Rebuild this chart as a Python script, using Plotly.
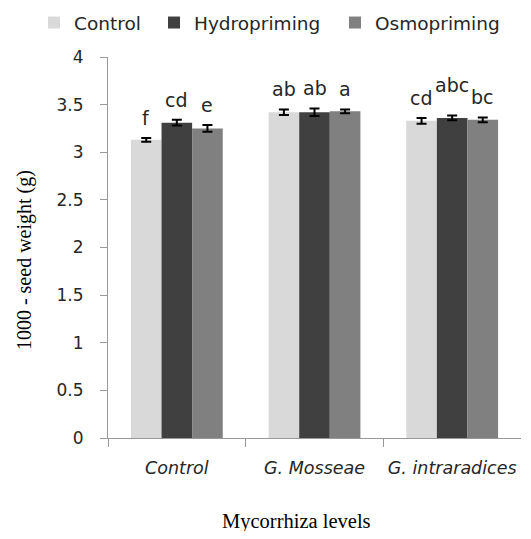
import plotly.graph_objects as go

categories = ["Control", "G. Mosseae", "G. intraradices"]
series_names = ["Control", "Hydropriming", "Osmopriming"]
control_vals = [3.13, 3.42, 3.33]
hydro_vals = [3.31, 3.42, 3.36]
osmo_vals = [3.25, 3.43, 3.34]
control_err = [0.02, 0.03, 0.03]
hydro_err = [0.03, 0.04, 0.025]
osmo_err = [0.035, 0.02, 0.025]
control_letters = ["f", "ab", "cd"]
hydro_letters = ["cd", "ab", "abc"]
osmo_letters = ["e", "a", "bc"]
y_ticks = [0, 0.5, 1, 1.5, 2, 2.5, 3, 3.5, 4]
y_tick_labels = ["0", "0.5", "1", "1.5", "2", "2.5", "3", "3.5", "4"]

colors = ["#d9d9d9", "#404040", "#808080"]
values = [control_vals, hydro_vals, osmo_vals]
errors = [control_err, hydro_err, osmo_err]
letters = [control_letters, hydro_letters, osmo_letters]
legend_ids = ["legend", "legend2", "legend3"]

W, H = 513, 523
L, T, B = 100, 49, 93
BARGAP = 0.333
legend_x = [26 / W, 146 / W, 327 / W]

SANS = "DejaVu Sans"
SERIF = "Liberation Serif"
TXT = "#262626"

fig = go.Figure()
for name, v, e, c, lid in zip(series_names, values, errors, colors, legend_ids):
    fig.add_trace(go.Bar(
        x=categories, y=v, name=name, marker_color=c, marker_line_width=0,
        legend=lid,
        error_y=dict(type="data", array=e, color="black", thickness=2, width=5),
    ))

bar_w = (W - L) / len(categories) * (1 - BARGAP) / 3
shifts = [-bar_w, 0, bar_w]
for k in range(3):
    for i, cat in enumerate(categories):
        extra = 11 if letters[k][i] == "abc" else 0
        fig.add_annotation(
            x=cat, y=values[k][i] + errors[k][i], xshift=shifts[k], yshift=7 + extra,
            text=letters[k][i], showarrow=False, yanchor="bottom",
            font=dict(family=SANS, size=19, color=TXT),
        )

fig.add_annotation(
    text="1000 - seed weight (g)", xref="paper", yref="paper", x=-0.2034, y=0.467,
    textangle=-90, showarrow=False, xanchor="center", yanchor="middle",
    font=dict(family=SERIF, size=20, color="black"),
)
fig.add_annotation(
    text="Mycorrhiza levels", xref="paper", yref="paper", x=0.457, y=-0.218,
    showarrow=False, xanchor="center", yanchor="middle",
    font=dict(family=SERIF, size=20.5, color="black"),
)

leg_common = dict(orientation="h", xref="container", yref="container",
                  y=1 - 15 / H, xanchor="left", yanchor="middle", itemwidth=30,
                  font=dict(family=SANS, size=18.5, color=TXT), bgcolor="rgba(0,0,0,0)")
fig.update_layout(
    width=W, height=H,
    margin=dict(l=L, r=0, t=T, b=B, autoexpand=False),
    plot_bgcolor="white", paper_bgcolor="white",
    barmode="group", bargap=BARGAP, bargroupgap=0,
    showlegend=True,
    legend=dict(x=legend_x[0], **leg_common),
    legend2=dict(x=legend_x[1], **leg_common),
    legend3=dict(x=legend_x[2], **leg_common),
    font=dict(family=SANS, color=TXT),
)
fig.update_yaxes(
    range=[0, 4], tickvals=y_ticks, ticktext=y_tick_labels, automargin=False,
    showgrid=False, showline=True, linecolor="#999", linewidth=1,
    ticks="outside", ticklen=7, tickcolor="#999", ticklabelstandoff=13,
    tickfont=dict(family=SANS, size=17, color=TXT),
)
fig.update_xaxes(
    automargin=False, tickangle=0,
    showgrid=False, showline=True, linecolor="#999", linewidth=1,
    ticks="outside", tickson="boundaries", ticklen=8, tickcolor="#999",
    ticklabelstandoff=14,
    tickfont=dict(family=SANS, size=17.5, color=TXT, style="italic"),
)
fig.write_html("out.html")
